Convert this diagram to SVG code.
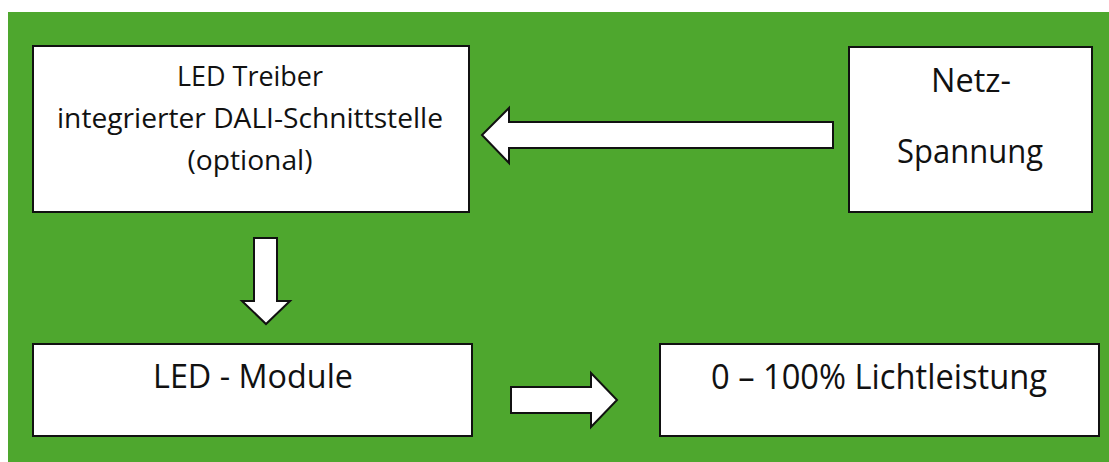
<svg xmlns="http://www.w3.org/2000/svg" width="1109" height="462" viewBox="0 0 1109 462">
<style>
.box{fill:#ffffff;stroke:#111111;stroke-width:2}
.arr{fill:#ffffff;stroke:#111111;stroke-width:2;stroke-linejoin:miter}
.t{font-family:"Open Sans","Noto Sans","Liberation Sans",sans-serif;fill:#111111;text-anchor:middle}
.s{font-size:28px}
.m{font-size:33px}
.l{font-size:34px}
</style>
<rect x="0" y="0" width="1109" height="462" fill="#ffffff"/>
<rect x="8" y="12" width="1101" height="450" fill="#4ea72e"/>
<g id="connectors">
<polygon class="arr" points="833,122 509,122 509,108 482,135 509,163 509,148 833,148"/>
<polygon class="arr" points="254,238 277,238 277,301 290,301 266,324 242,301 254,301"/>
<polygon class="arr" points="511,387 591,387 591,373 617,400 591,427 591,413 511,413"/>
</g>
<g id="treiber">
<rect class="box" x="33" y="46" width="436" height="166"/>
<text class="t s" x="250" y="86" textLength="146" lengthAdjust="spacingAndGlyphs">LED Treiber</text>
<text class="t s" x="250" y="128" textLength="386" lengthAdjust="spacingAndGlyphs">integrierter DALI-Schnittstelle</text>
<text class="t s" x="250" y="170" textLength="125" lengthAdjust="spacingAndGlyphs">(optional)</text>
</g>
<g id="netz">
<rect class="box" x="849" y="47" width="243" height="165"/>
<text class="t m" x="971" y="92" textLength="80" lengthAdjust="spacingAndGlyphs">Netz-</text>
<text class="t m" x="970" y="163" textLength="146" lengthAdjust="spacingAndGlyphs">Spannung</text>
</g>
<g id="module">
<rect class="box" x="33" y="344" width="439" height="92"/>
<text class="t m" x="253" y="388" textLength="200" lengthAdjust="spacingAndGlyphs">LED - Module</text>
</g>
<g id="licht">
<rect class="box" x="660" y="344" width="439" height="92"/>
<text class="t l" x="879" y="389" textLength="336" lengthAdjust="spacingAndGlyphs">0 – 100% Lichtleistung</text>
</g>
</svg>
